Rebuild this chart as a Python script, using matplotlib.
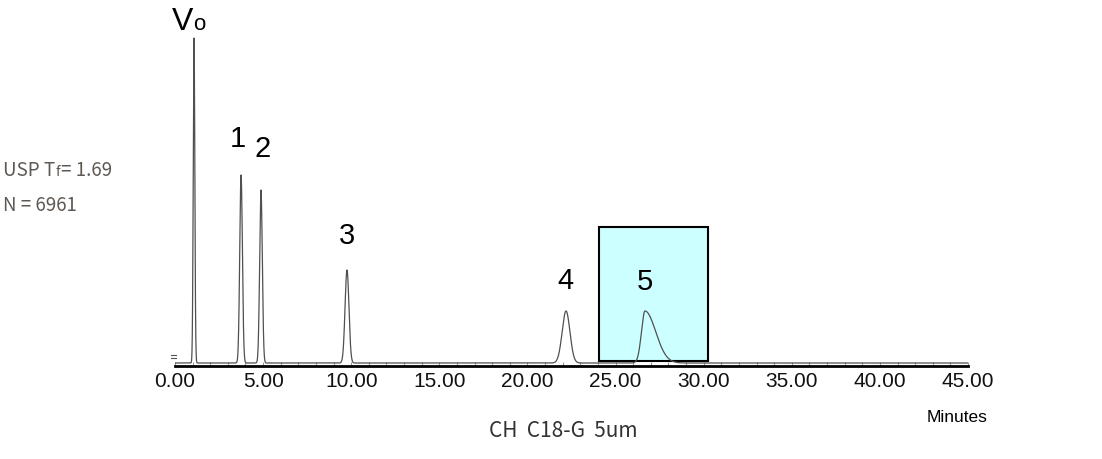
import numpy as np
import matplotlib
matplotlib.use("Agg")
import matplotlib.pyplot as plt
from matplotlib.patches import Rectangle
from matplotlib.ticker import MultipleLocator, FormatStrFormatter

# ---- data ----
peak_labels = ["Vo", "1", "2", "3", "4", "5"]
peak_times = [1.08, 3.75, 4.88, 9.76, 22.19, 26.67]      # minutes
peak_heights = [325, 188, 173, 93, 52, 52]               # signal (a.u.)
peak_sigmas = [0.045, 0.075, 0.075, 0.11, 0.22, 0.20]    # minutes
peak_tails = [0.0, 0.0, 0.0, 0.0, 0.0, 0.45]             # tailing (minutes)
box_start, box_end = 24.06, 30.25
box_low, box_high = 2, 136
usp_tf = "1.69"
plate_n = "6961"
column_name = "CH  C18-G  5um"

t = np.linspace(0, 45, 9001)
signal = np.zeros_like(t)
for rt, h, s, tau in zip(peak_times, peak_heights, peak_sigmas, peak_tails):
    left = np.exp(-0.5 * ((t - rt) / s) ** 2)
    right = np.exp(-0.5 * ((t - rt) / (s + tau * 0.9)) ** 2)
    signal += h * np.where(t < rt, left, right)

fig = plt.figure(figsize=(11.02, 4.59), dpi=100)
ax = fig.add_axes([175 / 1102, 1 - 366 / 459, (968 - 175) / 1102, 366 / 459])
ax.set_xlim(0, 45)
ax.set_ylim(-3, 363)

ax.add_patch(Rectangle((box_start, box_low), box_end - box_start, box_high - box_low,
                       facecolor="#CCFFFF", edgecolor="black", linewidth=1.5, zorder=1))
ax.plot(t, signal, color="#505050", linewidth=0.9, zorder=2)

for sp in ["top", "right", "left"]:
    ax.spines[sp].set_visible(False)
ax.spines["bottom"].set_linewidth(2.0)
ax.set_yticks([])
ax.xaxis.set_major_locator(MultipleLocator(5))
ax.xaxis.set_minor_locator(MultipleLocator(1))
ax.xaxis.set_major_formatter(FormatStrFormatter("%.2f"))
ax.tick_params(axis="x", which="both", direction="in", color="#999999", length=3, width=0.8,
               labelsize=15, pad=4)
for lab in ax.get_xticklabels():
    lab.set_family(["Liberation Sans Narrow", "Liberation Sans", "DejaVu Sans"])
    lab.set_color("#111111")

# peak labels (positions in minutes / signal units)
label_font = ["Liberation Sans", "DejaVu Sans"]
label_pos = {"1": (3.58, 210), "2": (4.99, 200), "3": (9.76, 113),
             "4": (22.13, 68), "5": (26.67, 67)}
for lab in peak_labels:
    if lab == "Vo":
        ax.text(0.43, 333, "V", fontsize=23, family=label_font, ha="center", va="baseline",
                clip_on=False)
        ax.text(1.39, 333, "o", fontsize=16, family=label_font, ha="center", va="baseline",
                clip_on=False)
    else:
        x, y = label_pos[lab]
        ax.text(x, y, lab, fontsize=21, family=label_font, ha="center", va="bottom")

# small y marks at left
ax.plot([-0.2, 0.05], [8, 8], color="#555555", lw=0.8, clip_on=False)
ax.plot([-0.2, 0.05], [5, 5], color="#555555", lw=0.8, clip_on=False)

txt_color = "#5f5852"
cjk = ["Noto Sans CJK KR", "DejaVu Sans"]
renderer = fig.canvas.get_renderer()
y_usp = 1 - 176 / 459
t1 = fig.text(3 / 1102, y_usp, "USP T", fontsize=13.5, color=txt_color, va="baseline", family=cjk)
w1 = t1.get_window_extent(renderer).width
t2 = fig.text((3 + w1 + 0.5) / 1102, y_usp, "f", fontsize=10, color=txt_color, va="baseline",
              family=cjk)
w2 = t2.get_window_extent(renderer).width
fig.text((3 + w1 + w2 + 1) / 1102, y_usp, "= " + usp_tf, fontsize=13.5, color=txt_color,
         va="baseline", family=cjk)
fig.text(3 / 1102, 1 - 211 / 459, "N = " + plate_n, fontsize=13.5, color=txt_color,
         va="baseline", family=cjk)

fig.text(957 / 1102, 1 - 418 / 459, "Minutes", fontsize=12.5, ha="center", va="center",
         family=["Liberation Sans Narrow", "Liberation Sans", "DejaVu Sans"])
fig.text(563 / 1102, 1 - 431 / 459, column_name, fontsize=15, color="#333333", ha="center",
         va="center", family=cjk)

fig.savefig("out.png", dpi=100)
